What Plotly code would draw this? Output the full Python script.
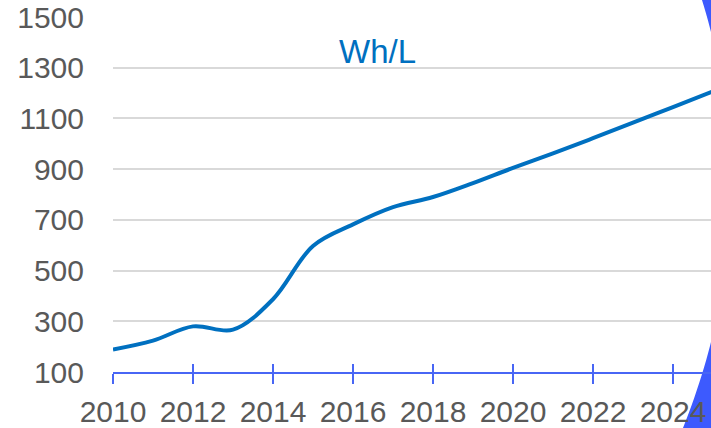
import numpy as np
import plotly.graph_objects as go

years = list(range(2010, 2026))
wh_per_l = [189, 224, 280, 267, 387, 597, 682, 750, 790, 845, 905, 962, 1022, 1083, 1145, 1207]
x_ticks = list(range(2010, 2026, 2))
y_ticks = list(range(100, 1501, 200))
series_label = "Wh/L"

LINE_COLOR = "#0070c0"
AXIS_BLUE = "#4866f5"
OVAL_BLUE = "#3d5afe"
TEXT_GREY = "#595959"
GRID = "#d9d9d9"
FONT = "Liberation Sans, Arial, sans-serif"

W, H = 711, 428
ML, MR, MT, MB = 113, 0, 17, 54
PW, PH = W - ML - MR, H - MT - MB


def to_paper(px, py):
    return (px - ML) / PW, (H - MB - py) / PH


# decorative blue backdrop outside a large white oval (right edge only is visible)
py = np.linspace(-10, H + 10, 60)
edge_x = 711 - 0.000815 * (py - 32) * (py - 344)
pts = [to_paper(x, y) for x, y in zip(edge_x, py)]
pts += [to_paper(900, H + 10), to_paper(900, -10)]
path = "M " + " L ".join(f"{a:.5f},{b:.5f}" for a, b in pts) + " Z"

fig = go.Figure()
fig.add_trace(go.Scatter(
    x=years, y=wh_per_l, mode="lines",
    line=dict(color=LINE_COLOR, width=4, shape="spline", smoothing=1.0),
    hoverinfo="skip", showlegend=False,
))
# invisible trace for overlay axis (inside tick marks)
fig.add_trace(go.Scatter(x=[years[0]], y=[wh_per_l[0]], xaxis="x2", mode="markers",
                         marker=dict(opacity=0), showlegend=False, hoverinfo="skip"))

xr = [2010, 2024.95]
ann_x, ann_y = to_paper(377, 52)
fig.update_layout(
    width=W, height=H,
    margin=dict(l=ML, r=MR, t=MT, b=MB),
    paper_bgcolor="white", plot_bgcolor="white",
    font=dict(family=FONT, color=TEXT_GREY, size=30),
    xaxis=dict(
        range=xr, tickvals=x_ticks, ticktext=[str(v) for v in x_ticks],
        showgrid=False, zeroline=False,
        showline=True, linecolor=AXIS_BLUE, linewidth=1.5,
        ticks="outside", ticklen=10, tickwidth=1.5, tickcolor=AXIS_BLUE,
        tickfont=dict(size=30, color=TEXT_GREY, family=FONT),
        ticklabelstandoff=2,
    ),
    xaxis2=dict(
        range=xr, overlaying="x", tickvals=x_ticks, showticklabels=False,
        showgrid=False, zeroline=False, showline=False,
        ticks="inside", ticklen=8, tickwidth=1.5, tickcolor=AXIS_BLUE,
        anchor="y",
    ),
    yaxis=dict(
        range=[100, 1500], tickvals=y_ticks, ticktext=[str(v) for v in y_ticks],
        showgrid=True, gridcolor=GRID, gridwidth=1.5,
        zeroline=False, showline=False, ticks="",
        tickfont=dict(size=30, color=TEXT_GREY, family=FONT),
        ticklabelstandoff=28,
    ),
    shapes=[dict(
        type="path", xref="paper", yref="paper", path=path,
        fillcolor=OVAL_BLUE, line=dict(width=0), layer="below",
    )],
    annotations=[dict(
        text=series_label, xref="paper", yref="paper",
        x=ann_x, y=ann_y,
        xanchor="center", yanchor="middle", showarrow=False,
        font=dict(size=33, color=LINE_COLOR, family=FONT),
    )],
)

fig.write_html("out.html", config={"displayModeBar": False},
               post_script="document.body.style.margin='0';")
